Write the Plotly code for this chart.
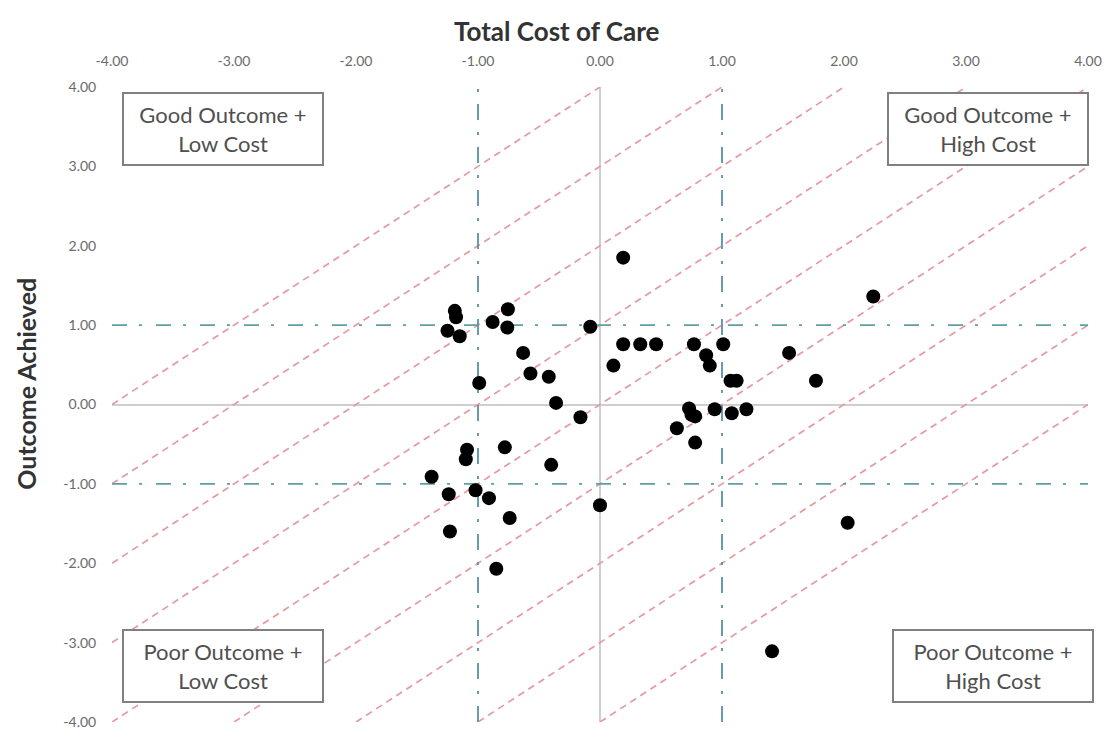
import plotly.graph_objects as go

# ---- data ----
cost_x = [-1.19, -1.18, -1.25, -1.15, -0.88, -0.755, -0.76, -0.08, -0.63, -0.57,
          -0.42, -0.99, -0.36, -0.16, 0.11, 0.19, 0.33, 0.46, 0.77, 1.01,
          0.19, 0.87, 0.90, 1.07, 1.12, 1.55, 1.77, 2.24, 0.73, 0.75,
          0.78, 0.94, 1.08, 1.20, 0.63, 0.78, -1.09, -1.10, -0.78, -0.40,
          -1.38, -1.24, -1.02, -0.91, -0.74, -1.23, 0.00, -0.85, 2.03, 1.41]
outcome_y = [1.18, 1.10, 0.93, 0.86, 1.04, 1.20, 0.97, 0.98, 0.65, 0.39,
             0.35, 0.27, 0.02, -0.16, 0.49, 0.76, 0.76, 0.76, 0.76, 0.76,
             1.85, 0.62, 0.49, 0.30, 0.30, 0.65, 0.30, 1.36, -0.05, -0.13,
             -0.15, -0.06, -0.11, -0.06, -0.30, -0.48, -0.57, -0.69, -0.54, -0.76,
             -0.91, -1.13, -1.08, -1.18, -1.43, -1.60, -1.27, -2.07, -1.49, -3.11]

tick_vals = [-4, -3, -2, -1, 0, 1, 2, 3, 4]
tick_text = ["-4.00", "-3.00", "-2.00", "-1.00", "0.00", "1.00", "2.00", "3.00", "4.00"]
thresholds = [-1, 1]
diag_offsets = [4, 3, 2, 1, 0, -1, -2, -3, -4]
axis_lim = 4

quadrant_labels = ["Good Outcome +<br>Low Cost", "Good Outcome +<br>High Cost",
                   "Poor Outcome +<br>Low Cost", "Poor Outcome +<br>High Cost"]
quadrant_pos = [(-3.09, 3.47), (3.18, 3.47), (-3.09, -3.29), (3.22, -3.29)]

FONT = "Lato, 'Open Sans', sans-serif"

fig = go.Figure()

# diagonal reference lines y = x + c
dx, dy = [], []
for c in diag_offsets:
    x0 = max(-axis_lim, -axis_lim - c)
    x1 = min(axis_lim, axis_lim - c)
    dx += [x0, x1, None]
    dy += [x0 + c, x1 + c, None]
fig.add_trace(go.Scatter(x=dx, y=dy, mode="lines",
                         line=dict(color="#e59aa2", width=1.7, dash="7px,5px"),
                         hoverinfo="skip", showlegend=False))

# threshold lines (horizontal)
hx, hy = [], []
for t in thresholds:
    hx += [-axis_lim, axis_lim, None]
    hy += [t, t, None]
fig.add_trace(go.Scatter(x=hx, y=hy, mode="lines",
                         line=dict(color="#5f9ea3", width=1.6, dash="15px,12px,3px,14px"),
                         hoverinfo="skip", showlegend=False))

# threshold lines (vertical)
vx, vy = [], []
for t in thresholds:
    vx += [t, t, None]
    vy += [-axis_lim, axis_lim, None]
fig.add_trace(go.Scatter(x=vx, y=vy, mode="lines",
                         line=dict(color="#5a92a3", width=1.8, dash="16px,12px,3px,12px"),
                         hoverinfo="skip", showlegend=False))

# data points
fig.add_trace(go.Scatter(x=cost_x, y=outcome_y, mode="markers",
                         marker=dict(color="black", size=14),
                         showlegend=False))

# quadrant labels
for txt, (qx, qy) in zip(quadrant_labels, quadrant_pos):
    fig.add_annotation(x=qx, y=qy, xref="x", yref="y", text=txt, showarrow=False,
                       font=dict(family=FONT, size=22, color="#505050"),
                       bgcolor="white", bordercolor="#808080", borderwidth=2,
                       borderpad=2, width=194, height=66, align="center")

# axis titles (plot area: x 112..1088, y 87..729 in page pixels)
fig.add_annotation(xref="x domain", yref="y domain", x=(557 - 112) / 976, y=(729 - 30) / 642,
                   xanchor="center", yanchor="middle",
                   text="<b>Total Cost of Care</b>", showarrow=False,
                   font=dict(family=FONT, size=26, color="#333333"))
fig.add_annotation(xref="x domain", yref="y domain", x=-(112 - 26) / 976, y=(729 - 387) / 642,
                   xanchor="center", yanchor="middle",
                   text="<b>Outcome Achieved</b>", textangle=-90, showarrow=False,
                   font=dict(family=FONT, size=25, color="#333333"))

axis_common = dict(range=[-axis_lim, axis_lim], tickvals=tick_vals, ticktext=tick_text,
                   showgrid=False, zeroline=True, zerolinecolor="#cfcfcf", zerolinewidth=1.5,
                   showline=False, ticks="outside", tickcolor="rgba(0,0,0,0)",
                   tickfont=dict(family=FONT, size=14, color="#6a6a6a"))

fig.update_xaxes(side="top", ticklen=14, **axis_common)
fig.update_yaxes(ticklen=12, **axis_common)

fig.update_layout(width=1111, height=734, plot_bgcolor="white", paper_bgcolor="white",
                  margin=dict(l=104, r=31, t=79, b=13), showlegend=False)

fig.write_html("out.html")
